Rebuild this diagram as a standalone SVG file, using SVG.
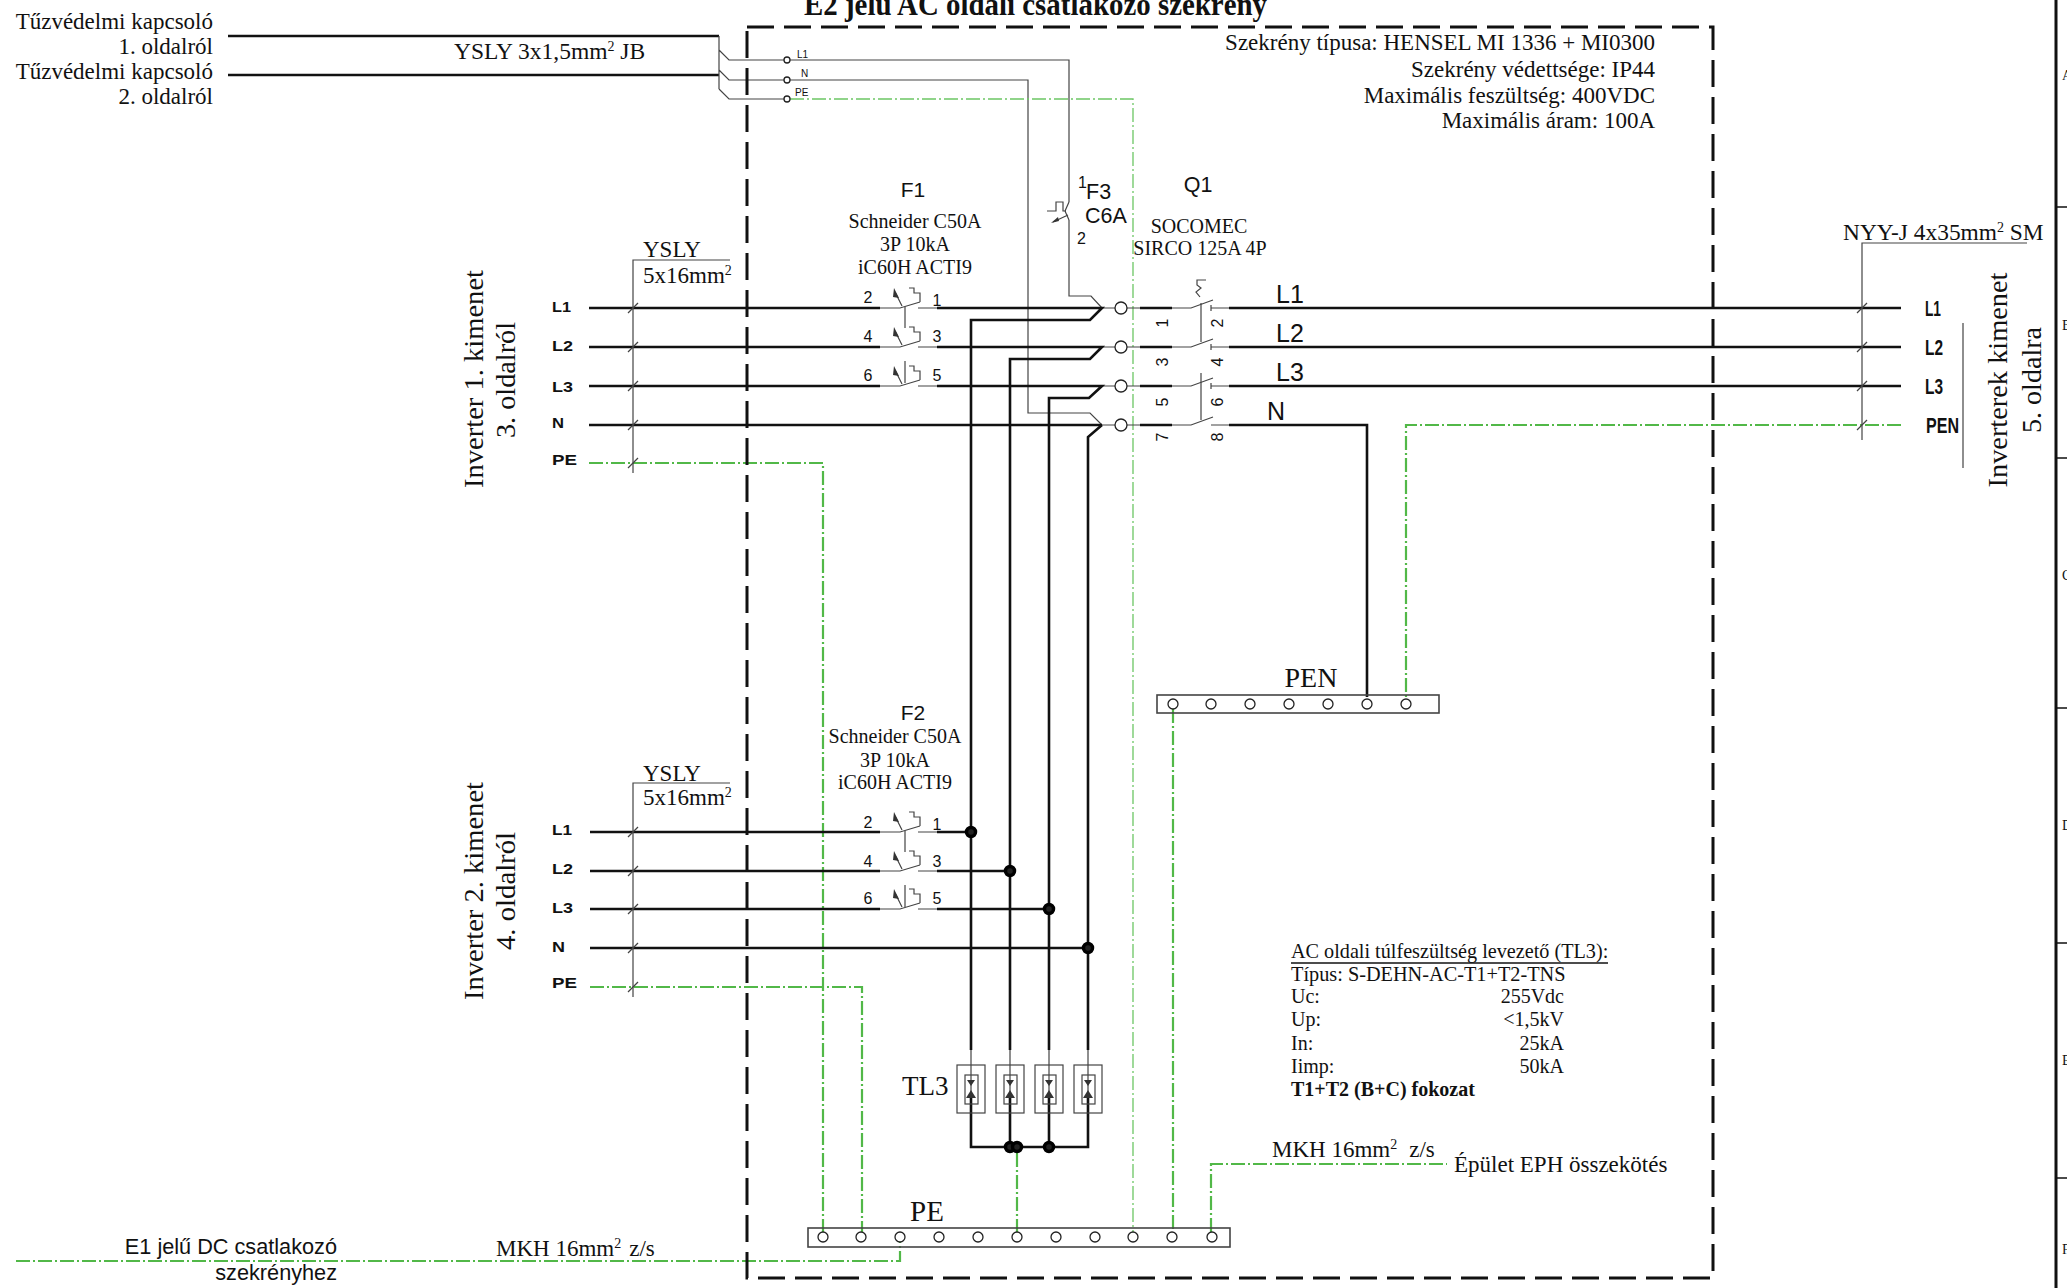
<svg xmlns="http://www.w3.org/2000/svg" width="2067" height="1288" viewBox="0 0 2067 1288">
<style>
text{fill:#111;font-family:"Liberation Serif","Times New Roman",serif;font-size:20px}
.s{font-family:"Liberation Sans",Arial,sans-serif}
.b{font-family:"Liberation Sans",Arial,sans-serif;font-weight:bold}
.n{font-family:"Liberation Sans",Arial,sans-serif;font-size:16px}
.m{text-anchor:middle}.e{text-anchor:end}
.t{fill:none;stroke:#111;stroke-width:2.6}
.f{fill:none;stroke:#444;stroke-width:1.2}
.g{fill:none;stroke:#52b848;stroke-width:2.2;stroke-dasharray:14 3 2 3}
.gt{fill:none;stroke:#6cc664;stroke-width:1.3;stroke-dasharray:14 3 2 3}
.box{fill:none;stroke:#111;stroke-width:3;stroke-dasharray:27 10}
.h{fill:#fff;stroke:#222;stroke-width:1.3}
.dot{fill:#222;stroke:#000;stroke-width:3.5}
.k{fill:#333;stroke:none}
</style>
<defs>
<g id="brk">
<path class="f" d="M880,0H900L920,-6M918,0H937M902,-2L895,-16M920,-6V-15H914V-20H909"/>
<path class="k" d="M894,-20L899,-10L893,-11Z"/>
</g>
<g id="tick"><path class="f" d="M-5,5L5,-5"/></g>
<g id="sw"><path class="f" d="M1172,0H1191L1213,-8"/></g>
<g id="spd">
<rect class="f" x="-14" y="0" width="28" height="48"/>
<rect class="f" x="-6" y="10" width="13" height="29"/>
<path class="k" d="M-4,15H4L0,21ZM-5,33H5L0,25Z"/>
</g>
</defs>

<g id="connectors">
<path class="t" d="M228,36H719M228,75H719"/>
<path class="f" d="M719,36V89M719,50L729,60H787M719,70L729,80H787M719,89L729,99H787"/>
<path class="f" d="M790,60H1069V202M790,80H1028V413H1090L1102,425M1069,220V296H1091L1102,308M1102,308H1115M1102,347H1115M1102,386H1115M1102,425H1115"/>
<path class="gt" d="M790,99H1133V1232"/>
<path class="t" d="M589,308H880M589,347H880M589,386H880M589,425H1102"/>
<path class="t" d="M937,308H1102L1090,320H971V1050M937,347H1102L1090,359H1010V1050M937,386H1102L1089,398H1049V1050M1102,425L1088,437V1050"/>
<path class="g" d="M589,463H823V1232"/>
<path class="t" d="M590,832H880M590,871H880M590,909H880M590,948H1088M937,832H971M937,871H1010M937,909H1049"/>
<path class="g" d="M590,987H862V1232"/>
<path class="f" d="M971,1050V1098M1010,1050V1098M1049,1050V1098M1088,1050V1098"/>
<path class="t" d="M971,1098V1147H1088V1098M1010,1098V1147M1049,1098V1147"/>
<path class="g" d="M1017,1153V1232"/>
<path class="f" d="M1127,308H1140M1127,347H1140M1127,386H1140M1127,425H1140M1211,308H1229M1211,347H1229M1211,386H1229M1211,425H1229"/>
<path class="t" d="M1140,308H1172M1140,347H1172M1140,386H1172M1140,425H1172"/>
<path class="t" d="M1229,308H1901M1229,347H1901M1229,386H1901M1229,425H1367V697"/>
<path class="g" d="M1901,425H1406V699"/>
<path class="g" d="M1173,709V1232"/>
<path class="g" d="M1211,1232V1164H1447"/>
<path class="g" d="M16,1261H900V1242"/>
<path class="f" d="M633,473V260H730M633,997V783H730M2027,243H1862V440M1963,323V468"/>
<use href="#tick" x="633" y="308"/><use href="#tick" x="633" y="347"/><use href="#tick" x="633" y="386"/><use href="#tick" x="633" y="425"/><use href="#tick" x="633" y="463"/>
<use href="#tick" x="633" y="832"/><use href="#tick" x="633" y="871"/><use href="#tick" x="633" y="909"/><use href="#tick" x="633" y="948"/><use href="#tick" x="633" y="987"/>
<use href="#tick" x="1862" y="308"/><use href="#tick" x="1862" y="347"/><use href="#tick" x="1862" y="386"/><use href="#tick" x="1862" y="425"/>
<circle class="dot" cx="971" cy="832" r="4.5"/><circle class="dot" cx="1010" cy="871" r="4.5"/><circle class="dot" cx="1049" cy="909" r="4.5"/><circle class="dot" cx="1088" cy="948" r="4.5"/>
<circle class="dot" cx="1010" cy="1147" r="4.5"/><circle class="dot" cx="1017" cy="1147" r="4.5"/><circle class="dot" cx="1049" cy="1147" r="4.5"/>
</g>

<g id="cabinet">
<rect class="box" x="747" y="27" width="966" height="1251"/>
<text x="804" y="15" font-weight="bold" style="font-size:32px" textLength="463" lengthAdjust="spacingAndGlyphs">E2 jelű AC oldali csatlakozó szekrény</text>
<text class="e" x="1655" y="50" style="font-size:23px">Szekrény típusa: HENSEL MI 1336 + MI0300</text>
<text class="e" x="1655" y="77" style="font-size:23px">Szekrény védettsége: IP44</text>
<text class="e" x="1655" y="103" style="font-size:23px">Maximális feszültség: 400VDC</text>
<text class="e" x="1655" y="128" style="font-size:23px">Maximális áram: 100A</text>
</g>

<g id="fire-switch">
<text class="e" x="213" y="29" style="font-size:23px">Tűzvédelmi kapcsoló</text>
<text class="e" x="213" y="54" style="font-size:23px">1. oldalról</text>
<text class="e" x="213" y="79" style="font-size:23px">Tűzvédelmi kapcsoló</text>
<text class="e" x="213" y="104" style="font-size:23px">2. oldalról</text>
<text x="454" y="59" style="font-size:23.5px">YSLY 3x1,5mm<tspan dy="-8" style="font-size:14px">2</tspan><tspan dy="8"> JB</tspan></text>
</g>

<g id="terminals-f3">
<circle class="h" cx="787" cy="60" r="3"/><circle class="h" cx="787" cy="80" r="3"/><circle class="h" cx="787" cy="99" r="3"/>
<text class="s" x="797" y="58" style="font-size:10px">L1</text>
<text class="s" x="801" y="77" style="font-size:10px">N</text>
<text class="s" x="795" y="96" style="font-size:10px">PE</text>
</g>

<g id="F3">
<path class="f" d="M1069,202L1065,211L1069,220M1066,211H1063V202H1056V211H1047M1068,215L1053,222"/>
<path class="k" d="M1051,223L1058,217L1059,221Z"/>
<text class="n" x="1078" y="188">1</text>
<text class="s" x="1086" y="199" style="font-size:21.5px">F3</text>
<text class="s" x="1085" y="223" style="font-size:21.5px">C6A</text>
<text class="n" x="1077" y="244">2</text>
</g>

<g id="inverter1">
<text transform="translate(483 379) rotate(-90)" class="m" style="font-size:28px" textLength="218" lengthAdjust="spacingAndGlyphs">Inverter 1. kimenet</text>
<text transform="translate(515 380) rotate(-90)" class="m" style="font-size:28px" textLength="116" lengthAdjust="spacingAndGlyphs">3. oldalról</text>
<text class="b" x="552" y="312" style="font-size:14px" textLength="19" lengthAdjust="spacingAndGlyphs">L1</text>
<text class="b" x="552" y="351" style="font-size:14px" textLength="21" lengthAdjust="spacingAndGlyphs">L2</text>
<text class="b" x="552" y="392" style="font-size:14px" textLength="21" lengthAdjust="spacingAndGlyphs">L3</text>
<text class="b" x="552" y="428" style="font-size:14px" textLength="12" lengthAdjust="spacingAndGlyphs">N</text>
<text class="b" x="552" y="465" style="font-size:14px" textLength="25" lengthAdjust="spacingAndGlyphs">PE</text>
<text x="643" y="257" style="font-size:23px">YSLY</text>
<text x="643" y="283" style="font-size:23px">5x16mm<tspan dy="-8" style="font-size:14px">2</tspan></text>
</g>

<g id="inverter2">
<text transform="translate(483 891) rotate(-90)" class="m" style="font-size:28px" textLength="218" lengthAdjust="spacingAndGlyphs">Inverter 2. kimenet</text>
<text transform="translate(515 891) rotate(-90)" class="m" style="font-size:28px" textLength="118" lengthAdjust="spacingAndGlyphs">4. oldalról</text>
<text class="b" x="552" y="835" style="font-size:14px" textLength="20" lengthAdjust="spacingAndGlyphs">L1</text>
<text class="b" x="552" y="874" style="font-size:14px" textLength="21" lengthAdjust="spacingAndGlyphs">L2</text>
<text class="b" x="552" y="913" style="font-size:14px" textLength="21" lengthAdjust="spacingAndGlyphs">L3</text>
<text class="b" x="552" y="952" style="font-size:14px" textLength="13" lengthAdjust="spacingAndGlyphs">N</text>
<text class="b" x="552" y="988" style="font-size:14px" textLength="25" lengthAdjust="spacingAndGlyphs">PE</text>
<text x="643" y="781" style="font-size:23px">YSLY</text>
<text x="643" y="805" style="font-size:23px">5x16mm<tspan dy="-8" style="font-size:14px">2</tspan></text>
</g>

<g id="F1">
<use href="#brk" y="308"/><use href="#brk" y="347"/><use href="#brk" y="386"/>
<path class="f" d="M905,307V328M905,361V383"/>
<text class="s m" x="913" y="197" style="font-size:21px">F1</text>
<text class="m" x="915" y="228">Schneider C50A</text>
<text class="m" x="915" y="251">3P 10kA</text>
<text class="m" x="915" y="274">iC60H ACTI9</text>
<text class="n m" x="868" y="303">2</text><text class="n m" x="937" y="306">1</text>
<text class="n m" x="868" y="342">4</text><text class="n m" x="937" y="342">3</text>
<text class="n m" x="868" y="381">6</text><text class="n m" x="937" y="381">5</text>
</g>

<g id="F2">
<use href="#brk" y="832"/><use href="#brk" y="871"/><use href="#brk" y="909"/>
<path class="f" d="M905,831V852M905,885V907"/>
<text class="s m" x="913" y="720" style="font-size:21px">F2</text>
<text class="m" x="895" y="743">Schneider C50A</text>
<text class="m" x="895" y="767">3P 10kA</text>
<text class="m" x="895" y="789">iC60H ACTI9</text>
<text class="n m" x="868" y="828">2</text><text class="n m" x="937" y="830">1</text>
<text class="n m" x="868" y="867">4</text><text class="n m" x="937" y="867">3</text>
<text class="n m" x="868" y="904">6</text><text class="n m" x="937" y="904">5</text>
</g>

<g id="Q1">
<circle class="h" cx="1121" cy="308" r="6"/><circle class="h" cx="1121" cy="347" r="6"/><circle class="h" cx="1121" cy="386" r="6"/><circle class="h" cx="1121" cy="425" r="6"/>
<use href="#sw" y="308"/><use href="#sw" y="347"/><use href="#sw" y="386"/><use href="#sw" y="425"/>
<path class="f" d="M1211,305V311M1211,344V350M1211,383V389M1201,303V342M1201,373V420M1200,297L1196,292L1201,288L1197,285V280H1206"/>
<text class="s m" x="1198" y="192" style="font-size:21.5px">Q1</text>
<text class="m" x="1199" y="233">SOCOMEC</text>
<text class="m" x="1200" y="255">SIRCO 125A 4P</text>
<text class="n m" transform="translate(1168 323) rotate(-90)">1</text>
<text class="n m" transform="translate(1168 362) rotate(-90)">3</text>
<text class="n m" transform="translate(1168 402) rotate(-90)">5</text>
<text class="n m" transform="translate(1168 437) rotate(-90)">7</text>
<text class="n m" transform="translate(1223 323) rotate(-90)">2</text>
<text class="n m" transform="translate(1223 362) rotate(-90)">4</text>
<text class="n m" transform="translate(1223 402) rotate(-90)">6</text>
<text class="n m" transform="translate(1223 437) rotate(-90)">8</text>
<text class="s" x="1276" y="303" style="font-size:25px">L1</text>
<text class="s" x="1276" y="342" style="font-size:25px">L2</text>
<text class="s" x="1276" y="381" style="font-size:25px">L3</text>
<text class="s" x="1267" y="420" style="font-size:25px">N</text>
</g>

<g id="output">
<text x="1843" y="240" style="font-size:23.4px">NYY-J 4x35mm<tspan dy="-8" style="font-size:14px">2</tspan><tspan dy="8"> SM</tspan></text>
<text class="b" x="1925" y="316" style="font-size:22px" textLength="16" lengthAdjust="spacingAndGlyphs">L1</text>
<text class="b" x="1925" y="355" style="font-size:22px" textLength="18" lengthAdjust="spacingAndGlyphs">L2</text>
<text class="b" x="1925" y="394" style="font-size:22px" textLength="18" lengthAdjust="spacingAndGlyphs">L3</text>
<text class="b" x="1926" y="433" style="font-size:22px" textLength="33" lengthAdjust="spacingAndGlyphs">PEN</text>
<text transform="translate(2007 380) rotate(-90)" class="m" style="font-size:28px" textLength="215" lengthAdjust="spacingAndGlyphs">Inverterek kimenet</text>
<text transform="translate(2041 380) rotate(-90)" class="m" style="font-size:28px" textLength="106" lengthAdjust="spacingAndGlyphs">5. oldalra</text>
</g>

<g id="PEN-bus">
<rect class="f" style="stroke-width:1.6" x="1157" y="695" width="282" height="18"/>
<circle class="h" cx="1173" cy="704" r="5"/><circle class="h" cx="1211" cy="704" r="5"/><circle class="h" cx="1250" cy="704" r="5"/><circle class="h" cx="1289" cy="704" r="5"/><circle class="h" cx="1328" cy="704" r="5"/><circle class="h" cx="1367" cy="704" r="5"/><circle class="h" cx="1406" cy="704" r="5"/>
<text class="m" x="1311" y="687" style="font-size:28px">PEN</text>
</g>

<g id="TL3">
<use href="#spd" x="971" y="1065"/><use href="#spd" x="1010" y="1065"/><use href="#spd" x="1049" y="1065"/><use href="#spd" x="1088" y="1065"/>
<text x="902" y="1095" style="font-size:27px">TL3</text>
</g>

<g id="PE-bus">
<rect class="f" style="stroke-width:1.6" x="808" y="1228" width="422" height="19"/>
<circle class="h" cx="823" cy="1237" r="5"/><circle class="h" cx="861" cy="1237" r="5"/><circle class="h" cx="900" cy="1237" r="5"/><circle class="h" cx="939" cy="1237" r="5"/><circle class="h" cx="978" cy="1237" r="5"/><circle class="h" cx="1017" cy="1237" r="5"/><circle class="h" cx="1056" cy="1237" r="5"/><circle class="h" cx="1095" cy="1237" r="5"/><circle class="h" cx="1133" cy="1237" r="5"/><circle class="h" cx="1172" cy="1237" r="5"/><circle class="h" cx="1212" cy="1237" r="5"/>
<text x="910" y="1221" style="font-size:29px">PE</text>
</g>

<g id="earth-labels">
<text x="1272" y="1157" style="font-size:23px">MKH 16mm<tspan dy="-8" style="font-size:14px">2</tspan><tspan dy="8" dx="12">z/s</tspan></text>
<text x="1454" y="1172" style="font-size:23px">Épület EPH összekötés</text>
<text x="496" y="1256" style="font-size:23px">MKH 16mm<tspan dy="-8" style="font-size:14px">2</tspan><tspan dy="8" dx="8">z/s</tspan></text>
<text class="s e" x="337" y="1254" style="font-size:21.7px">E1 jelű DC csatlakozó</text>
<text class="s e" x="337" y="1280" style="font-size:21.7px">szekrényhez</text>
</g>

<g id="surge-info">
<text x="1291" y="958" style="font-size:20.2px">AC oldali túlfeszültség levezető (TL3):</text>
<path class="t" style="stroke-width:1.6" d="M1291,963H1608"/>
<text x="1291" y="981" style="font-size:20.3px">Típus: S-DEHN-AC-T1+T2-TNS</text>
<text x="1291" y="1003">Uc:</text><text class="e" x="1564" y="1003">255Vdc</text>
<text x="1291" y="1026">Up:</text><text class="e" x="1564" y="1026">&lt;1,5kV</text>
<text x="1291" y="1050">In:</text><text class="e" x="1564" y="1050">25kA</text>
<text x="1291" y="1073">Iimp:</text><text class="e" x="1564" y="1073">50kA</text>
<text x="1291" y="1096" font-weight="bold">T1+T2 (B+C) fokozat</text>
</g>

<g id="frame">
<path class="t" style="stroke-width:3" d="M2056,0V1288"/>
<path class="f" style="stroke:#111;stroke-width:1.5" d="M2056,207H2067M2056,458H2067M2056,708H2067M2056,943H2067M2056,1178H2067"/>
<text x="2062" y="80" style="font-size:14px">A</text>
<text x="2062" y="330" style="font-size:14px">B</text>
<text x="2062" y="580" style="font-size:14px">C</text>
<text x="2062" y="830" style="font-size:14px">D</text>
<text x="2062" y="1065" style="font-size:14px">E</text>
<text x="2062" y="1254" style="font-size:14px">F</text>
</g>
</svg>
